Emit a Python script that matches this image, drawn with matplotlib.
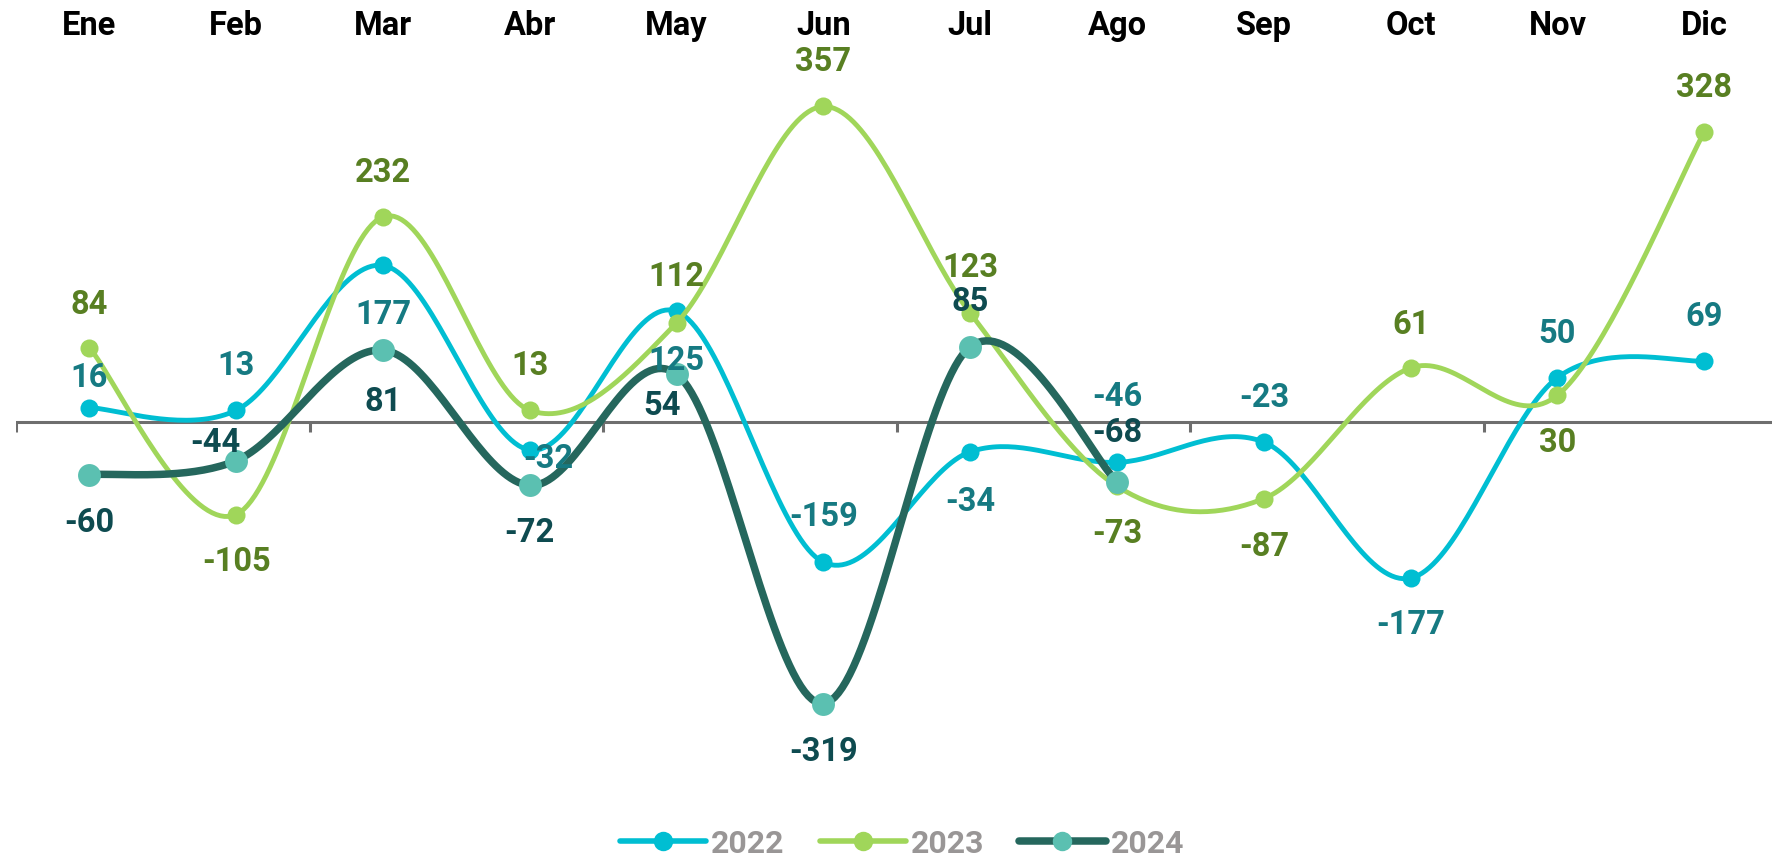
import matplotlib
matplotlib.use("Agg")
import matplotlib.pyplot as plt
import matplotlib.transforms as mtransforms
import numpy as np

plt.rcParams["font.family"] = ["Roboto", "DejaVu Sans"]

months = ["Ene", "Feb", "Mar", "Abr", "May", "Jun", "Jul", "Ago", "Sep", "Oct", "Nov", "Dic"]
v2022 = [16, 13, 177, -32, 125, -159, -34, -46, -23, -177, 50, 69]
v2023 = [84, -105, 232, 13, 112, 357, 123, -73, -87, 61, 30, 328]
v2024 = [-60, -44, 81, -72, 54, -319, 85, -68]

# label offsets in pixels (dx, dy), +dy = up
off2022 = [(0, 31), (0, 45), (0, -49), (19, -8), (0, -49), (0, 46),
           (0, -49), (0, 66), (0, 45), (0, -46), (0, 45), (0, 45)]
off2023 = [(0, 44), (0, -46), (0, 45), (0, 45), (0, 47), (0, 45),
           (0, 46), (0, -47), (0, -47), (0, 44), (0, -47), (0, 45)]
off2024 = [(0, -47), (-21, 19), (0, -51), (0, -47), (-15, -31), (0, -47),
           (0, 46), (0, 50)]


def smooth(y, n=40):
    # excel-like smoothed line (bezier, tension 1/6)
    x = np.arange(len(y), dtype=float)
    y = np.asarray(y, dtype=float)
    xs, ys = [], []
    t = np.linspace(0, 1, n)
    for i in range(len(y) - 1):
        a = max(i - 1, 0)
        b = min(i + 2, len(y) - 1)
        c1x = x[i] + (x[i + 1] - x[a]) / 6
        c1y = y[i] + (y[i + 1] - y[a]) / 6
        c2x = x[i + 1] - (x[b] - x[i]) / 6
        c2y = y[i + 1] - (y[b] - y[i]) / 6
        bx = (1 - t) ** 3 * x[i] + 3 * (1 - t) ** 2 * t * c1x + 3 * (1 - t) * t ** 2 * c2x + t ** 3 * x[i + 1]
        by = (1 - t) ** 3 * y[i] + 3 * (1 - t) ** 2 * t * c1y + 3 * (1 - t) * t ** 2 * c2y + t ** 3 * y[i + 1]
        xs.extend(bx)
        ys.extend(by)
    return xs, ys


W, H = 1772, 862
fig = plt.figure(figsize=(W / 100, H / 100), dpi=100)
ax = fig.add_axes([15.9 / W, 0.0997, (1777.7 - 15.9) / W, 0.8402])
ax.set_xlim(-0.5, 11.5)
ax.set_ylim(-400, 420)
ax.axis("off")

px = 0.72  # pixels -> points
fs = 23.5

series = [
    ("2022", v2022, off2022, "#00BED2", "#00BED2", "#167A82", 3.5, 13, 3),
    ("2023", v2023, off2023, "#A0D65A", "#A0D65A", "#587F22", 3.5, 13, 4),
    ("2024", v2024, off2024, "#25675D", "#5BC0B1", "#0E4B50", 5.4, 16.5, 5),
]

handles = []
for name, vals, offs, lc, mc, tc, lw, ms, z in series:
    sx, sy = smooth(vals)
    ax.plot(sx, sy, color=lc, lw=lw, solid_capstyle="round", zorder=z)
    ax.plot(range(len(vals)), vals, ls="none", marker="o", ms=ms,
            color=mc, mec="none", zorder=z + 0.5)
    h, = ax.plot([], [], color=lc, lw=max(lw, 4), marker="o", ms=14,
                 mfc=mc, mec="none", solid_capstyle="round")
    handles.append(h)
    for i, v in enumerate(vals):
        dx, dy = offs[i]
        ax.annotate(str(v), (i, v), xytext=(dx * px, dy * px),
                    textcoords="offset points", ha="center", va="center",
                    fontsize=fs, fontweight="bold", color=tc, zorder=10)

# zero axis with tick marks every two months
ax.axhline(0, color="#6E6E6E", lw=2.2, zorder=1)
for b in np.arange(-0.5, 11.5, 2):
    ax.plot([b, b], [0, -12], color="#6E6E6E", lw=2.2, zorder=1,
            solid_capstyle="butt")

# month labels along the top
trans = mtransforms.blended_transform_factory(ax.transData, fig.transFigure)
for i, m in enumerate(months):
    ax.text(i, 1 - 26 / H, m, transform=trans, ha="center", va="center",
            fontsize=fs, fontweight="bold", color="black")

leg = fig.legend(handles, ["2022", "2023", "2024"], loc="center",
                 bbox_to_anchor=(0.509, 0.021), ncol=3, frameon=False,
                 handlelength=2.7, handletextpad=0.15, columnspacing=1.1,
                 borderpad=0.1, prop={"size": 23, "weight": "bold"})
for t in leg.get_texts():
    t.set_color("#999696")

fig.savefig("out.png", dpi=100)
